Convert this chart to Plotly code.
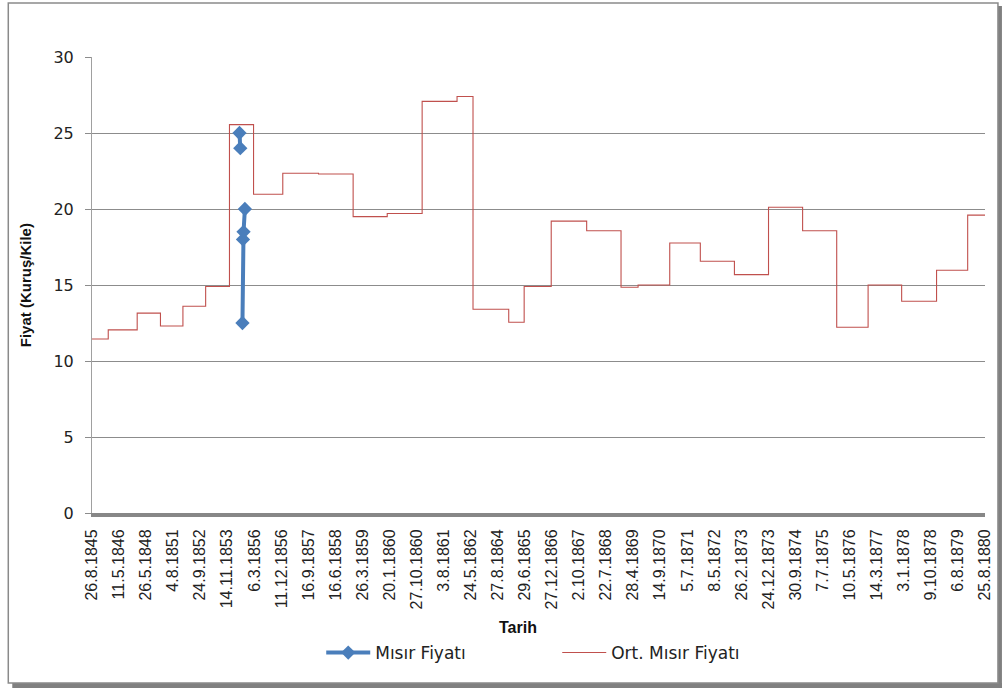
import plotly.graph_objects as go

# x-axis tick labels (dates shown on the category axis)
tarih_etiketleri = [
    "26.8.1845", "11.5.1846", "26.5.1848", "4.8.1851", "24.9.1852", "14.11.1853",
    "6.3.1856", "11.12.1856", "16.9.1857", "16.6.1858", "26.3.1859", "20.1.1860",
    "27.10.1860", "3.8.1861", "24.5.1862", "27.8.1864", "29.6.1865", "27.12.1866",
    "2.10.1867", "22.7.1868", "28.4.1869", "14.9.1870", "5.7.1871", "8.5.1872",
    "26.2.1873", "24.12.1873", "30.9.1874", "7.7.1875", "10.5.1876", "14.3.1877",
    "3.1.1878", "9.10.1878", "6.8.1879", "25.8.1880",
]

# average price: position on the axis (in label steps) where each level starts
ort_x = [0.0, 0.60, 1.67, 2.53, 3.36, 4.20, 5.08, 5.97, 7.05, 8.37, 9.65, 10.91,
         12.20, 13.49, 14.08, 15.40, 15.97, 16.97, 18.28, 19.55, 20.18, 21.35,
         22.48, 23.74, 25.00, 26.26, 27.52, 28.68, 29.92, 31.21, 32.36, 33.0]
ort_fiyat = [11.45, 12.05, 13.15, 12.3, 13.6, 14.9, 25.55, 20.97, 22.35, 22.3, 19.5, 19.7,
             27.08, 27.4, 13.4, 12.55, 14.9, 19.2, 18.57, 14.85, 15.0, 17.76,
             16.56, 15.68, 20.12, 18.57, 12.22, 15.0, 13.93, 15.97, 19.6, 19.6]

# individual corn prices (None = gap in the series)
misir_x = [5.45, 5.48, None, 5.56, 5.58, 5.60, 5.65]
misir_fiyat = [25, 24, None, 12.5, 18, 18.5, 20]

W, H = 1005, 688
L, R, T, B = 92, 988, 57, 513


def px(x):
    return (x - L) / (R - L)


def py(y):
    return (B - y) / (B - T)


fig = go.Figure()

fig.add_trace(go.Scatter(
    x=ort_x, y=ort_fiyat, mode="lines", name="Ort. Mısır Fiyatı",
    line=dict(color="#c0504d", width=1.1, shape="hv"), legendrank=2,
))
fig.add_trace(go.Scatter(
    x=misir_x, y=misir_fiyat, mode="lines+markers", name="Mısır Fiyatı",
    line=dict(color="#4a7ebb", width=4), connectgaps=False,
    marker=dict(symbol="diamond", size=11, color="#4a7ebb"), legendrank=1,
))

# frame with shadow like the original spreadsheet chart
shapes = [
    dict(type="rect", xref="paper", yref="paper", x0=px(12), x1=px(1005), y0=py(688), y1=py(683),
         fillcolor="#808080", line=dict(width=0), layer="below"),
    dict(type="rect", xref="paper", yref="paper", x0=px(1001), x1=px(1005), y0=py(688), y1=py(6),
         fillcolor="#808080", line=dict(width=0), layer="below"),
    dict(type="rect", xref="paper", yref="paper", x0=px(8), x1=px(1001), y0=py(683), y1=py(3),
         fillcolor="rgba(0,0,0,0)", line=dict(color="#8a8a8a", width=1.5), layer="below"),
]

fig.update_layout(
    width=W, height=H,
    margin=dict(l=L, r=W - R, t=T, b=H - B),
    paper_bgcolor="white", plot_bgcolor="white",
    showlegend=True,
    legend=dict(orientation="h", x=px(322), xanchor="left", y=py(653), yanchor="middle",
                itemwidth=44, entrywidth=177, entrywidthmode="pixels", traceorder="normal",
                font=dict(family="DejaVu Sans", size=17, color="#222222")),
    shapes=shapes,
    annotations=[
        dict(text="<b>Fiyat (Kuruş/Kile)</b>", xref="paper", yref="paper", x=px(25), y=0.5,
             xanchor="center", yanchor="middle", textangle=-90, showarrow=False,
             font=dict(family="Liberation Sans", size=15, color="#111111")),
        dict(text="<b>Tarih</b>", xref="paper", yref="paper", x=px(519), y=py(627),
             xanchor="center", yanchor="middle", showarrow=False,
             font=dict(family="Liberation Sans", size=16, color="#111111")),
    ],
)

fig.update_xaxes(
    range=[0, 33], tickmode="array", tickvals=list(range(len(tarih_etiketleri))),
    ticktext=tarih_etiketleri, tickangle=-90, showgrid=False, zeroline=False,
    showline=True, linecolor="#878787", linewidth=4, ticks="", ticklabelstandoff=6,
    tickfont=dict(family="Liberation Sans", size=16, color="#222222"),
)
fig.update_yaxes(
    range=[0, 30], dtick=5, showgrid=True, gridcolor="#8c8c8c", gridwidth=1,
    zeroline=False, showline=True, linecolor="#a0a0a0", linewidth=1,
    ticks="outside", ticklen=6, tickcolor="#8c8c8c", ticklabelstandoff=8,
    tickfont=dict(family="DejaVu Sans", size=16, color="#222222"),
)

# drop the default page margin so the figure sits at the window's top-left corner
fig.write_html("out.html", config={"displayModeBar": False},
               post_script="document.body.style.margin='0';")
